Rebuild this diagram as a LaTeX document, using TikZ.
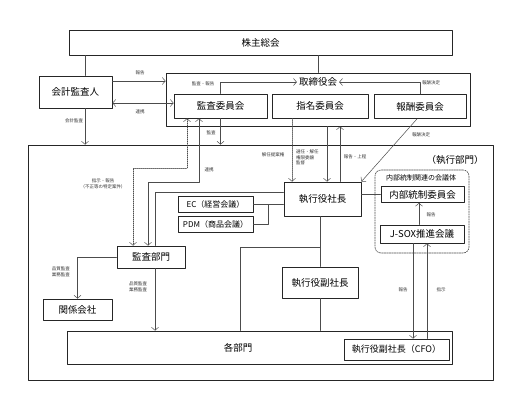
\documentclass[tikz,border=0pt]{standalone}
\usepackage{fontspec}
\setmainfont{Noto Sans CJK JP}
\usetikzlibrary{arrows.meta}

\begin{document}
\begin{tikzpicture}[line cap=round,line join=round,>={Straight Barb[length=3pt,width=7pt]},x=1pt,y=-1pt,
	box/.style={draw=black!85,line width=0.8pt,inner sep=0pt,font=\fontsize{9.5}{11}\selectfont},
	lbl/.style={inner sep=0pt,align=center,font=\fontsize{4.5}{5.5}\selectfont,text=black!80},
	con/.style={draw=black!70,line width=0.5pt},
	dotcon/.style={con,dash pattern=on 1pt off 1pt}]
		\useasboundingbox (0,0) rectangle (531,413);
		\node[box,minimum width=465pt,minimum height=235pt] (bumon) at (260.5,262.5) {};
		\node[box,minimum width=304pt,minimum height=53pt] (tori) at (318,99.5) {};
		\node[box,minimum width=383pt,minimum height=25pt] (soukai) at (260.5,42.5) {株主総会};
		\node[box,minimum width=73pt,minimum height=32pt] (kansanin) at (75.5,92) {会計監査人};
		\node[inner sep=2pt,font=\fontsize{9.5}{11}\selectfont] (toritext) at (318,82) {取締役会};
		\node[box,minimum width=93pt,minimum height=24pt] (kansaiin) at (220.5,106) {監査委員会};
		\node[box,minimum width=96pt,minimum height=24pt] (shimei) at (320,106) {指名委員会};
		\node[box,minimum width=92pt,minimum height=24pt] (houshu) at (420,106.5) {報酬委員会};
		\node[inner sep=0pt,font=\fontsize{9.5}{11}\selectfont] (shikkou) at (455,160) {（執行部門）};
		\node[box,minimum width=68pt,minimum height=22pt] (kansabu) at (151,257) {監査部門};
		\node[box,minimum width=69pt,minimum height=21pt] (kankei) at (77.5,309.5) {関係会社};
		\node[box,minimum width=75pt,minimum height=16pt,font=\fontsize{8}{9}\selectfont] (ec) at (215.5,204) {EC（経営会議）};
		\node[box,minimum width=75pt,minimum height=16pt,font=\fontsize{8}{9}\selectfont] (pdm) at (215.5,224) {PDM（商品会議）};
		\node[box,minimum width=77pt,minimum height=34pt] (shachou) at (322.5,199) {執行役社長};
		\node[box,minimum width=76pt,minimum height=31pt] (fuku) at (320,282.5) {執行役副社長};
		\node[box,minimum width=385pt,minimum height=33pt] (kakubu) at (259.5,347.5) {};
		\node[inner sep=0pt,font=\fontsize{9.5}{11}\selectfont] (kakubutext) at (238,348) {各部門};
		\node[box,minimum width=105pt,minimum height=21pt,font=\fontsize{9}{10}\selectfont] (cfo) at (396.5,349.5) {執行役副社長（CFO）};
		\node[draw=black!70,dash pattern=on 1.5pt off 1pt,rounded corners=6pt,line width=0.6pt,minimum width=94pt,minimum height=83pt] (kaigitai) at (422,211.5) {};
		\node[inner sep=0pt,font=\fontsize{7}{8}\selectfont] (kaigitext) at (421,178) {内部統制関連の会議体};
		\node[box,minimum width=83pt,minimum height=16pt] (naibu) at (422.5,194.5) {内部統制委員会};
		\node[box,minimum width=84pt,minimum height=18pt] (jsox) at (422,234) {J-SOX推進会議};
		\draw[con] ([xshift=9.5pt]kansanin.north) -- ([xshift=9.5pt]kansanin.north |- soukai.south);
		\draw[con] (tori.north) -- (tori.north |- soukai.south);
		\draw[con,->] ([yshift=11pt]kansanin.east) -- ([yshift=11pt]kansanin.east -| tori.west);
		\draw[con,<->] ([yshift=-11pt]kansanin.east) -- ([yshift=-11pt]kansanin.east -| kansaiin.west);
		\draw[con,->] ([xshift=9.5pt]kansanin.south) -- ([xshift=9.5pt]kansanin.south |- bumon.north);
		\draw[con,->] (kansaiin.north) |- (toritext.west);
		\draw[con,->] (houshu.north) |- (toritext.east);
		\draw[con,->] (kansaiin.south) -- (kansaiin.south |- bumon.north);
		\draw[dotcon,<->] ([xshift=-33.5pt]kansaiin.south) -- ++(0,50) -| ([xshift=-18pt]kansabu.north);
		\draw[con,<->] ([xshift=-21.5pt]kansaiin.south) -- ++(0,64) -| ([xshift=-3pt]kansabu.north);
		\draw[con] ([yshift=7pt]shachou.west) -| ([xshift=4pt]kansabu.north);
		\coordinate (ecpdm) at (268,204);
		\draw[con] (ec.east) -- (ecpdm) -- (ecpdm |- pdm.east) -- (pdm.east);
		\draw[con] (ecpdm) -- (ecpdm -| shachou.west);
		\draw[con,->] (kansabu.west) -| (kankei.north);
		\draw[con,->] ([xshift=4pt]kansabu.south) -- ([xshift=4pt]kansabu.south |- kakubu.north);
		\draw[dotcon,->] ([xshift=-28pt]shimei.south) -- ([xshift=-28pt]shimei.south |- shachou.north);
		\draw[con,->] ([xshift=9pt]tori.south) -- ([xshift=9pt]tori.south |- shachou.north);
		\draw[con,<-] ([xshift=22pt]tori.south) -- ([xshift=22pt]tori.south |- shachou.north);
		\draw[con,->] ([xshift=-3pt]houshu.south) -- (shachou.north east);
		\draw[con] (fuku.north |- shachou.south) -- (fuku.north);
		\coordinate (bunki) at (320,247);
		\draw[con] (bunki) -| ([xshift=-19.5pt]kakubu.north);
		\draw[con] (fuku.south) -- (fuku.south |- kakubu.north);
		\draw[con] (shachou.east |- naibu.west) -- (naibu.west);
		\draw[con,->] ([xshift=-3pt]jsox.north) -- ([xshift=-3pt]jsox.north |- naibu.south);
		\draw[con,->] ([xshift=-9pt]jsox.south) -- ([xshift=-9pt]jsox.south |- cfo.north);
		\draw[con,<-] ([xshift=5pt]jsox.south) -- ([xshift=5pt]jsox.south |- cfo.north);
		\node[lbl] (lhoukoku) at (140,73) {報告};
		\node[lbl] (lrenkei) at (140,112) {連携};
		\node[lbl] (lkaikei) at (74,121) {会計監査};
		\node[lbl] (lkansahou) at (203,84) {監査・報告};
		\node[lbl] (lhoushu) at (431,83) {報酬決定};
		\node[lbl] (lhoushub) at (421,135) {報酬決定};
		\node[lbl] (lkansa) at (211,133) {監査};
		\node[lbl] (lkainin) at (273,155) {解任提案権};
		\node[lbl,align=left,anchor=north west] (lsennin) at (296,150) {選任・解任\\権限委譲\\監督};
		\node[lbl] (ljoutei) at (355,157) {報告・上程};
		\node[lbl] (lshiji) at (103,184) {指示・報告\\（不正等の特定案件）};
		\node[lbl] (lrenkeib) at (209,170) {連携};
		\node[lbl] (lhinshitsu) at (61,272) {品質監査\\業務監査};
		\node[lbl] (lhinshitsub) at (138,287) {品質監査\\業務監査};
		\node[lbl] (ljsox) at (431,215) {報告};
		\node[lbl] (lcfo) at (403,290) {報告};
		\node[lbl] (lcfob) at (441,290) {指示};
	\end{tikzpicture}
\end{document}
